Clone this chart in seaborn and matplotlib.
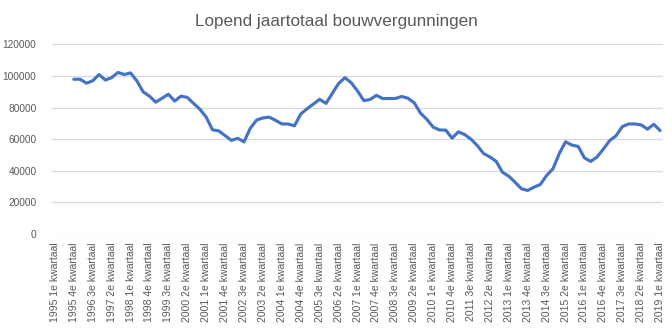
import matplotlib
matplotlib.use("Agg")
import matplotlib.pyplot as plt
import numpy as np
import pandas as pd
import seaborn as sns

years = list(range(1995, 2020))
quarters = [f"{y} {q}e kwartaal" for y in years for q in (1, 2, 3, 4)][:97]

values = [np.nan, np.nan, np.nan,
          98000, 98000, 95500, 97000, 101000, 97500, 99000, 102300, 101000, 102000,
          97000, 90000, 87300, 83500, 86000, 88500, 84200, 87300, 86500, 82700,
          79000, 74000, 66000, 65300, 62300, 59300, 60600, 58400, 67000, 72200,
          73500, 74000, 72000, 69700, 69700, 68500, 76000, 79300, 82300, 85300,
          82700, 89000, 95300, 99000, 95800, 90600, 84500, 85200, 87800, 85800,
          85800, 85800, 87100, 86000, 83100, 76500, 72600, 67700, 65900, 65800,
          60700, 64700, 63000, 60100, 56000, 51000, 48800, 46000, 39100, 36600,
          32800, 28700, 27600, 29700, 31400, 37100, 41300, 50900, 58400, 56300,
          55500, 48200, 46000, 48800, 53800, 59200, 62200, 68000, 69700, 69700,
          69100, 66400, 69500, 65500]

yticks = [0, 20000, 40000, 60000, 80000, 100000, 120000]
title = "Lopend jaartotaal bouwvergunningen"

df = pd.DataFrame({"kwartaal": quarters, "pos": range(len(quarters)), "waarde": values})

sns.set_theme(style="white")
plt.rcParams["font.family"] = ["Liberation Sans", "DejaVu Sans"]

fig = plt.figure(figsize=(6.72, 3.32), dpi=100)
ax = fig.add_axes([0.077, 0.295, 0.910, 0.571])
sns.lineplot(data=df, x="pos", y="waarde", color="#4472C4", linewidth=2.25, ax=ax)

ax.set_xlim(-0.5, 96.5)
ax.set_ylim(0, 120000)
ax.set_yticks(yticks)
ax.set_yticklabels([str(v) for v in yticks])
ax.yaxis.grid(True, color="#D9D9D9", linewidth=0.9)
ax.set_axisbelow(True)
ax.set_xticks(df["pos"][::3])
ax.set_xticklabels(df["kwartaal"][::3], rotation=90)
ax.set_xlabel("")
ax.set_ylabel("")
for s in ax.spines.values():
    s.set_visible(False)
ax.tick_params(axis="both", length=0, colors="#595959")
ax.tick_params(axis="y", pad=11, labelsize=7.3)
ax.tick_params(axis="x", pad=6, labelsize=7.5)

fig.text(0.5, 0.935, title, ha="center", va="center", fontsize=12.3, color="#595959")

fig.savefig("out.png", dpi=100, facecolor="white")
